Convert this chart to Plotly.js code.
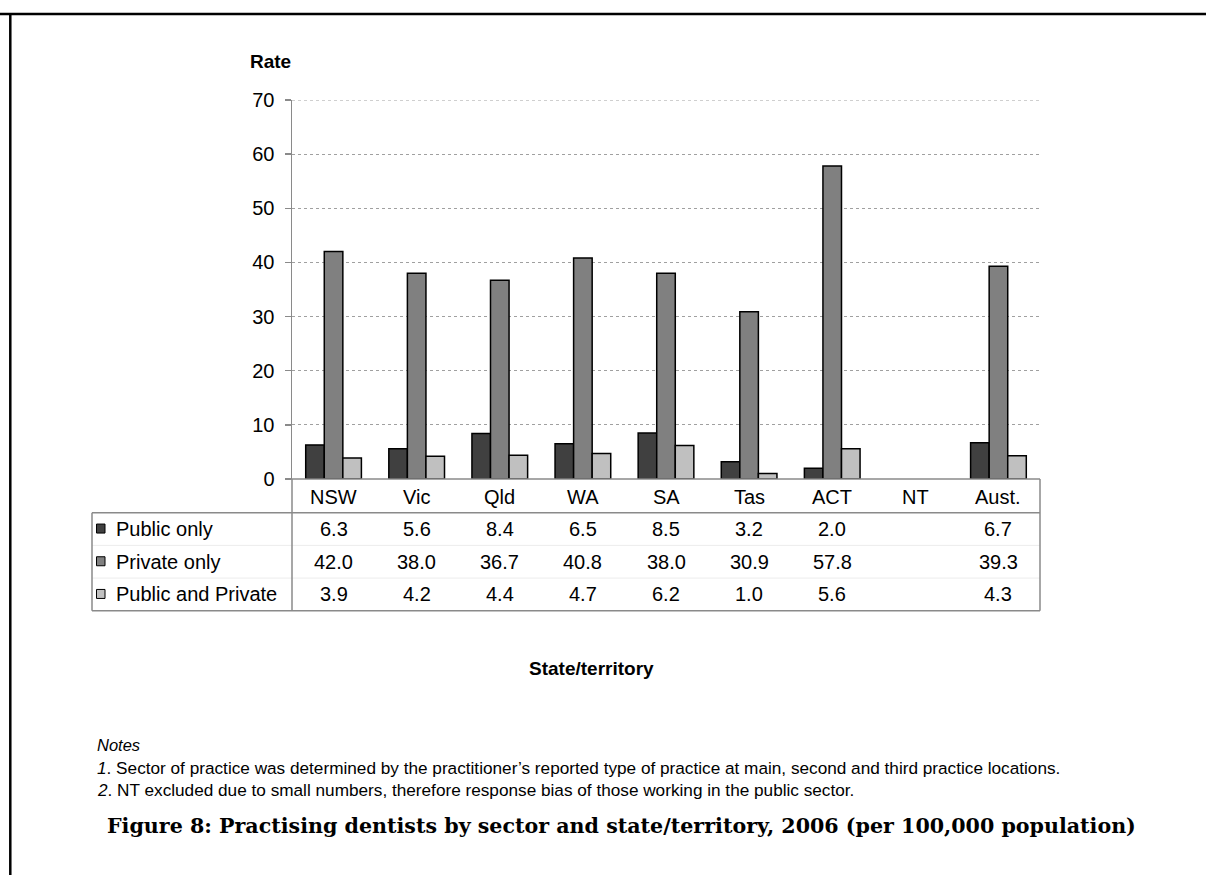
<!DOCTYPE html>
<html>
<head>
<meta charset="utf-8">
<script src="https://cdn.plot.ly/plotly-3.0.1.min.js"></script>
<style>
html,body{margin:0;padding:0;background:#fff;}
#chart{width:1206px;height:875px;}
</style>
</head>
<body>
<div id="chart"></div>
<script>
// ---- data ----
const categories = ['NSW', 'Vic', 'Qld', 'WA', 'SA', 'Tas', 'ACT', 'NT', 'Aust.'];
const publicOnly = [6.3, 5.6, 8.4, 6.5, 8.5, 3.2, 2.0, null, 6.7];
const privateOnly = [42.0, 38.0, 36.7, 40.8, 38.0, 30.9, 57.8, null, 39.3];
const publicAndPrivate = [3.9, 4.2, 4.4, 4.7, 6.2, 1.0, 5.6, null, 4.3];
const seriesNames = ['Public only', 'Private only', 'Public and Private'];
const yTickValues = [0, 10, 20, 30, 40, 50, 60, 70];
const yAxisTitle = 'Rate';
const xAxisTitle = 'State/territory';
const notesHeading = 'Notes';
const notes = [
  '<i>1</i>. Sector of practice was determined by the practitioner\u2019s reported type of practice at main, second and third practice locations.',
  '<i>2</i>. NT excluded due to small numbers, therefore response bias of those working in the public sector.'
];
const figureCaption = 'Figure 8: Practising dentists by sector and state/territory, 2006 (per 100,000 population)';

// ---- styling / layout ----
const W = 1206, H = 875;
const PL = 292, PR = 1040, PT = 100, PB = 479;
const px = x => (x - PL) / (PR - PL);
const py = y => (PB - y) / (PB - PT);
const colors = ['#404040', '#808080', '#c0c0c0'];
const FONT = '"Liberation Sans", Arial, sans-serif';
const LINE = '#8a8a8a';

const seriesValues = [publicOnly, privateOnly, publicAndPrivate];
const traces = seriesValues.map((vals, i) => ({
  type: 'bar',
  name: seriesNames[i],
  x: categories,
  y: vals,
  marker: { color: colors[i], line: { color: '#000', width: 1.5 } },
  hoverinfo: 'x+y+name'
}));

const shapes = [];
const annotations = [];
function hline(x0, x1, y, color, width) {
  shapes.push({ type: 'line', xref: 'paper', yref: 'paper', x0: px(x0), x1: px(x1), y0: py(y), y1: py(y), line: { color: color, width: width } });
}
function vline(x, y0, y1, color, width) {
  shapes.push({ type: 'line', xref: 'paper', yref: 'paper', x0: px(x), x1: px(x), y0: py(y0), y1: py(y1), line: { color: color, width: width } });
}

// gridline at the top tick (the axis edge)
const topTick = yTickValues[yTickValues.length - 1];
shapes.push({ type: 'line', xref: 'paper', yref: 'y', x0: 0, x1: 1, y0: topTick, y1: topTick,
  line: { color: '#a0a0a0', width: 1, dash: 'dot' }, layer: 'below' });

// outer frame (top & left)
hline(0, W, 14, '#000', 2.5);
vline(10.3, 14, H, '#000', 2.5);

// data table
const rowTop = 512.7, rowH = 32.7;
const rowCenters = [0, 1, 2].map(i => rowTop + rowH * (i + 0.5));
hline(287, PR, PB, LINE, 1.5);
hline(92, PR, rowTop, LINE, 1.5);
hline(92, PR, rowTop + rowH * 3, LINE, 1.5);
hline(92, PR, rowTop + rowH, '#ececec', 1);
hline(92, PR, rowTop + rowH * 2, '#ececec', 1);
vline(92, rowTop, rowTop + rowH * 3, LINE, 1.5);
vline(PR, PB, rowTop + rowH * 3, LINE, 1.5);
vline(PL, PB, rowTop + rowH * 3, LINE, 1.5);

// category labels row
categories.forEach(c => {
  annotations.push({ xref: 'x', yref: 'paper', x: c, y: py(496.5), text: c, showarrow: false,
    xanchor: 'center', yanchor: 'middle', font: { family: FONT, size: 20, color: '#000' } });
});

// series rows: legend key + values
seriesValues.forEach((vals, i) => {
  const cy = rowCenters[i];
  shapes.push({ type: 'rect', xref: 'paper', yref: 'paper', x0: px(96.5), x1: px(105), y0: py(cy - 5), y1: py(cy + 4),
    fillcolor: colors[i], line: { color: '#000', width: 1 } });
  annotations.push({ xref: 'paper', yref: 'paper', x: px(114), y: py(cy), text: seriesNames[i], showarrow: false,
    xanchor: 'left', yanchor: 'middle', font: { family: FONT, size: 20, color: '#000' } });
  vals.forEach((v, j) => {
    if (v === null) return;
    annotations.push({ xref: 'x', yref: 'paper', x: categories[j], y: py(cy), text: v.toFixed(1), showarrow: false,
      xanchor: 'center', yanchor: 'middle', font: { family: FONT, size: 20, color: '#000' } });
  });
});

// axis titles
annotations.push({ xref: 'paper', yref: 'paper', x: px(248), y: py(61), text: '<b>' + yAxisTitle + '</b>', showarrow: false,
  xanchor: 'left', yanchor: 'middle', font: { family: FONT, size: 19, color: '#000' } });
annotations.push({ xref: 'paper', yref: 'paper', x: px(591), y: py(668), text: '<b>' + xAxisTitle + '</b>', showarrow: false,
  xanchor: 'center', yanchor: 'middle', font: { family: FONT, size: 19, color: '#000' } });

// notes
annotations.push({ xref: 'paper', yref: 'paper', x: px(95), y: py(745), text: '<i>' + notesHeading + '</i>', showarrow: false,
  xanchor: 'left', yanchor: 'middle', font: { family: FONT, size: 16.5, color: '#000' } });
notes.forEach((n, i) => {
  annotations.push({ xref: 'paper', yref: 'paper', x: px(95), y: py(768 + 22 * i), text: n, showarrow: false,
    xanchor: 'left', yanchor: 'middle', font: { family: FONT, size: 17.2, color: '#000' } });
});

// caption
annotations.push({ xref: 'paper', yref: 'paper', x: px(105), y: py(826), text: '<b>' + figureCaption + '</b>', showarrow: false,
  xanchor: 'left', yanchor: 'middle', font: { family: '"DejaVu Serif", "Liberation Serif", serif', size: 20.6, color: '#000' } });

const layout = {
  width: W, height: H,
  margin: { l: PL, r: W - PR, t: PT, b: H - PB, pad: 0 },
  paper_bgcolor: '#fff', plot_bgcolor: '#fff',
  showlegend: false,
  barmode: 'group', bargap: 0.33, bargroupgap: 0,
  font: { family: FONT, size: 20, color: '#000' },
  xaxis: { type: 'category', categoryarray: categories, range: [-0.5, categories.length - 0.5],
    showticklabels: false, showgrid: false, showline: false, zeroline: false, ticks: '' , fixedrange: true},
  yaxis: { range: [0, 70], tickvals: yTickValues, ticktext: yTickValues.map(String),
    showgrid: true, gridcolor: '#a0a0a0', gridwidth: 1, griddash: 'dot',
    showline: true, linecolor: LINE, linewidth: 1.5,
    ticks: 'outside', ticklen: 6, tickcolor: LINE, tickwidth: 1.5,
    ticklabelstandoff: 6,
    zeroline: false, tickfont: { family: FONT, size: 20, color: '#000' }, fixedrange: true },
  shapes: shapes,
  annotations: annotations
};

Plotly.newPlot('chart', traces, layout, { displayModeBar: false, staticPlot: true });
</script>
</body>
</html>
